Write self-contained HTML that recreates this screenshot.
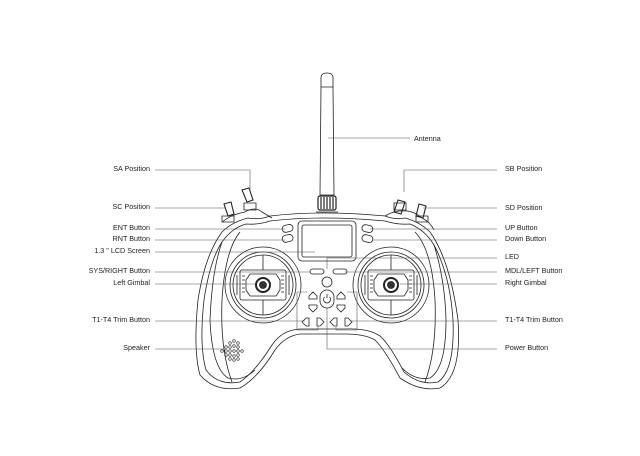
<!DOCTYPE html>
<html><head><meta charset="utf-8"><style>
html,body{margin:0;padding:0;background:#fff;}
svg{display:block}
text{font-family:"Liberation Sans",sans-serif;font-size:7.2px;fill:#222}
</style></head><body>
<svg width="640" height="456" viewBox="0 0 640 456" xmlns="http://www.w3.org/2000/svg">
<rect width="640" height="456" fill="#fff"/>
<g fill="none" stroke="#222" stroke-width="0.8">
<!-- antenna -->
<path d="M321,78 Q321,73 327,73 Q333,73 333,78 L333,87 L321,87 Z"/>
<path d="M321,87 L320,195 L334,195 L333,87"/>
<rect x="318" y="196" width="18" height="14" rx="2" stroke-width="1.2"/>
<path d="M321,197 V209 M324,197 V209 M327,197 V209 M330,197 V209 M333,197 V209" stroke-width="1.2"/>
<path d="M316,212 L338,212"/>
<!-- body outer -->
<path d="M270,216 Q320,210 385,216 Q395,220 405,218 Q420,222 430,232 Q450,260 458,320 Q462,375 440,388 Q420,392 400,378 Q385,350 375,340 Q365,334 345,334 L300,334 Q285,336 275,350 Q258,378 240,388 Q215,392 200,375 Q193,350 198,300 Q205,255 222,232 Q232,222 248,218 Q260,220 270,216 Z"/>
<path d="M270,221 Q320,215 385,221 Q398,225 410,224 Q425,230 434,245 Q450,275 453,320 Q455,370 438,382 Q420,386 404,372 Q390,345 380,336 Q368,328 345,329 L300,329 Q282,330 272,345 Q255,372 240,382 Q218,386 206,370 Q199,345 204,300 Q210,260 222,242 Q232,228 246,224 Q258,225 270,221 Z"/>
<path d="M222,242 Q212,270 210,320 Q212,368 228,378 Q242,382 255,370" />
<path d="M434,245 Q445,280 446,320 Q446,368 430,378 Q415,381 402,368"/>
<path d="M240,232 Q225,250 222,300 Q220,350 232,382 M415,232 Q432,250 435,300 Q437,350 425,382"/>
<!-- switches -->
<path d="M224,204 l7,-2 l3,12 l-6,2 Z" stroke-width="1.1"/>
<path d="M222,216 h12 v6 h-12 Z"/>
<path d="M242,190 l7,-2 l4,12 l-6,2 Z" stroke-width="1.1"/>
<path d="M244,203 h12 v7 h-12 Z"/>
<path d="M222,222 Q232,214 245,212 Q255,206 262,212 L272,218"/>
<path d="M398,200 l7,2 l-4,12 l-7,-2 Z" stroke-width="1.1"/>
<path d="M394,203 h12 v7 h-12 Z"/>
<path d="M419,204 l7,2 l-3,12 l-7,-2 Z" stroke-width="1.1"/>
<path d="M416,216 h12 v6 h-12 Z"/>
<path d="M385,216 Q395,210 404,211 Q412,210 422,218 Q430,222 434,230"/>
<!-- screen -->
<rect x="298" y="221" width="58" height="40" rx="4"/>
<rect x="302" y="225" width="50" height="32" rx="2"/>
<!-- side buttons -->
<rect x="282" y="225" width="11" height="7" rx="3.5" transform="rotate(-12 287 228)"/>
<rect x="282" y="235" width="11" height="7" rx="3.5" transform="rotate(-12 287 238)"/>
<rect x="362" y="225" width="11" height="7" rx="3.5" transform="rotate(12 367 228)"/>
<rect x="362" y="235" width="11" height="7" rx="3.5" transform="rotate(12 367 238)"/>
<!-- gimbals -->
<circle cx="263" cy="285" r="38"/><circle cx="263" cy="285" r="33"/><circle cx="263" cy="285" r="30"/>
<rect x="240" y="270" width="46" height="30" rx="2"/>
<path d="M250,274 h26 l4,6 v10 l-4,6 h-26 l-4,-6 v-10 Z"/>
<path d="M242,276 h3 M242,280 h3 M242,284 h3 M242,288 h3 M242,292 h3 M281,276 h3 M281,280 h3 M281,284 h3 M281,288 h3 M281,292 h3"/>
<circle cx="263" cy="285" r="7" stroke-width="2"/><circle cx="263" cy="285" r="3.5" fill="#333"/>
<path d="M263,255 V270 M263,300 V315 M237,275 v20 M289,275 v20"/>
<circle cx="391" cy="285" r="38"/><circle cx="391" cy="285" r="33"/><circle cx="391" cy="285" r="30"/>
<rect x="368" y="270" width="46" height="30" rx="2"/>
<path d="M378,274 h26 l4,6 v10 l-4,6 h-26 l-4,-6 v-10 Z"/>
<path d="M370,276 h3 M370,280 h3 M370,284 h3 M370,288 h3 M370,292 h3 M409,276 h3 M409,280 h3 M409,284 h3 M409,288 h3 M409,292 h3"/>
<circle cx="391" cy="285" r="7" stroke-width="2"/><circle cx="391" cy="285" r="3.5" fill="#333"/>
<path d="M391,255 V270 M391,300 V315 M365,275 v20 M417,275 v20"/>
<!-- center buttons -->
<rect x="310" y="269" width="14" height="5" rx="2.5"/>
<rect x="333" y="269" width="14" height="5" rx="2.5"/>
<circle cx="327" cy="282" r="5"/>
<rect x="320" y="290" width="14" height="18" rx="7"/>
<path d="M324.5,297 a3.5,3.5 0 1 0 5,0 M327,294 v4"/>
<path d="M309,296 l4,-4 l4,4 v3 h-8 Z M337,296 l4,-4 l4,4 v3 h-8 Z"/>
<path d="M309,305 h8 v3 l-4,4 l-4,-4 Z M337,305 h8 v3 l-4,4 l-4,-4 Z"/>
<path d="M302,322 l4,-4 h3 v8 h-3 Z M317,318 h3 l4,4 l-4,4 h-3 Z M330,322 l4,-4 h3 v8 h-3 Z M345,318 h3 l4,4 l-4,4 h-3 Z"/>
<!-- speaker -->
<g fill="none" stroke-width="0.6">
<circle cx="230" cy="343" r="1.3"/><circle cx="234" cy="341" r="1.3"/><circle cx="238" cy="343" r="1.3"/>
<circle cx="226" cy="347" r="1.3"/><circle cx="230" cy="347" r="1.3"/><circle cx="234" cy="346" r="1.3"/><circle cx="238" cy="347" r="1.3"/>
<circle cx="222" cy="351" r="1.3"/><circle cx="226" cy="351" r="1.3"/><circle cx="230" cy="351" r="1.3"/><circle cx="234" cy="351" r="1.3"/><circle cx="238" cy="351" r="1.3"/><circle cx="242" cy="351" r="1.3"/>
<circle cx="226" cy="355" r="1.3"/><circle cx="230" cy="355" r="1.3"/><circle cx="234" cy="356" r="1.3"/><circle cx="238" cy="355" r="1.3"/>
<circle cx="230" cy="359" r="1.3"/><circle cx="234" cy="360" r="1.3"/><circle cx="238" cy="359" r="1.3"/>
</g>
</g>
<!-- leader lines -->
<g fill="none" stroke="#555" stroke-width="0.6">
<path d="M328,138 H410"/>
<path d="M155,170 H250 V190"/>
<path d="M155,208 H225"/>
<path d="M155,229 H285"/>
<path d="M155,240 H285"/>
<path d="M155,252 H315"/>
<path d="M155,272 H310"/>
<path d="M155,284 H255"/>
<path d="M155,321 H305"/>
<path d="M155,349 H224"/>
<path d="M497,170 H404 V192"/>
<path d="M497,208 H423"/>
<path d="M497,229 H370"/>
<path d="M497,240 H372"/>
<path d="M497,258 H327 V269"/>
<path d="M497,272 H345"/>
<path d="M497,284 H400"/>
<path d="M497,321 H350"/>
<path d="M497,349 H327 V308"/>
<path d="M297,292 h10 M297,292 v38 h21 v-3 M357,292 h-10 M357,292 v38 h-21 v-3"/>
</g>
<!-- labels -->
<text x="414" y="141">Antenna</text>
<g text-anchor="end">
<text x="150" y="171">SA  Position</text>
<text x="150" y="209">SC  Position</text>
<text x="150" y="230">ENT  Button</text>
<text x="150" y="241">RNT  Button</text>
<text x="150" y="253">1.3 " LCD Screen</text>
<text x="150" y="273">SYS/RIGHT Button</text>
<text x="150" y="285">Left Gimbal</text>
<text x="150" y="322">T1-T4 Trim Button</text>
<text x="150" y="350">Speaker</text>
</g>
<text x="505" y="171">SB  Position</text>
<text x="505" y="210">SD  Position</text>
<text x="505" y="230">UP  Button</text>
<text x="505" y="241">Down  Button</text>
<text x="505" y="259">LED</text>
<text x="505" y="273">MDL/LEFT Button</text>
<text x="505" y="285">Right Gimbal</text>
<text x="505" y="322">T1-T4 Trim Button</text>
<text x="505" y="350">Power Button</text>
</svg>
</body></html>
